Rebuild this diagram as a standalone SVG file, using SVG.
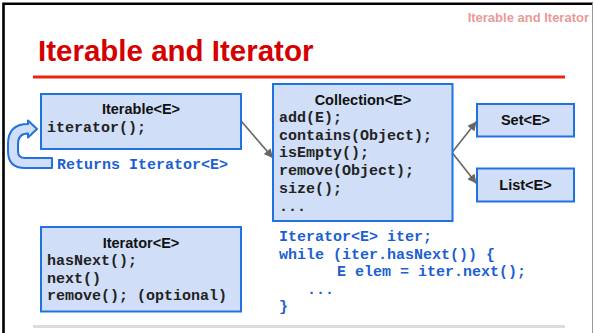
<svg xmlns="http://www.w3.org/2000/svg" width="594" height="333" viewBox="0 0 594 333">
<style>
.box{fill:#d0def7;stroke:#1f72e0;stroke-width:2}
.ttl{font-family:"Liberation Sans",Arial,sans-serif;font-weight:bold;font-size:14.5px;fill:#111;text-anchor:middle}
.code{font-family:"Liberation Mono","Courier New",monospace;font-weight:bold;font-size:15px;fill:#222}
.blue{fill:#1b5fd3}
.conn{stroke:#666;stroke-width:1.6;fill:none;marker-end:url(#ah)}
</style>
<defs>
<marker id="ah" viewBox="0 0 10 10" refX="10" refY="5" markerWidth="10" markerHeight="9" markerUnits="userSpaceOnUse" orient="auto">
<path d="M0,0 L10,5 L0,10 Z" fill="#666"/>
</marker>
</defs>
<rect width="594" height="333" fill="#fff"/>
<path d="M3.5,333 V3.8 H593" fill="none" stroke="#000" stroke-width="2.6"/>
<line x1="592.5" y1="3" x2="592.5" y2="333" stroke="#999" stroke-width="1"/>
<text x="589" y="22" text-anchor="end" font-family="'Liberation Sans',Arial,sans-serif" font-weight="bold" font-size="13" fill="#ea9999">Iterable and Iterator</text>
<text x="38" y="61" font-family="'Liberation Sans',Arial,sans-serif" font-weight="bold" font-size="29.5" fill="#d50000">Iterable and Iterator</text>
<line x1="33" y1="77" x2="565" y2="77" stroke="#e8240c" stroke-width="3"/>
<line x1="33" y1="326.5" x2="565" y2="326.5" stroke="#dcdcdc" stroke-width="3"/>

<g id="connectors">
<line class="conn" x1="241.5" y1="121.5" x2="273" y2="158"/>
<line class="conn" x1="452" y1="152.5" x2="476.5" y2="121.5"/>
<line class="conn" x1="452" y1="152.5" x2="476.5" y2="183.5"/>
</g>

<g id="returns-arrow">
<path d="M52,158 L25,158 Q18,158 18,151 L18,144 Q18,133.5 28,133.5 L28,137.5 L37,129 L28,120.5 L28,124 Q8,124 8,144 L8,151 Q8,168 25,168 L52,168 Z" fill="#d0def7" stroke="#1f72e0" stroke-width="2" stroke-linejoin="round"/>
<text class="code blue" x="57" y="168.5">Returns Iterator&lt;E&gt;</text>
</g>

<g id="iterable">
<rect class="box" x="41" y="94" width="200" height="55"/>
<text class="ttl" x="141" y="114">Iterable&lt;E&gt;</text>
<text class="code" x="47" y="132">iterator();</text>
</g>

<g id="collection">
<rect class="box" x="273" y="84" width="179.5" height="137"/>
<text class="ttl" x="363" y="105">Collection&lt;E&gt;</text>
<text class="code" x="279" y="122">add(E);</text>
<text class="code" x="279" y="139.5">contains(Object);</text>
<text class="code" x="279" y="157.3">isEmpty();</text>
<text class="code" x="279" y="175">remove(Object);</text>
<text class="code" x="279" y="192.7">size();</text>
<text class="code" x="279" y="210.5">...</text>
</g>

<g id="set">
<rect class="box" x="477" y="104" width="97" height="32.5"/>
<text class="ttl" x="525.5" y="125">Set&lt;E&gt;</text>
</g>

<g id="list">
<rect class="box" x="477" y="168.5" width="97" height="33"/>
<text class="ttl" x="525.5" y="190">List&lt;E&gt;</text>
</g>

<g id="iterator">
<rect class="box" x="41" y="227" width="200" height="84.5"/>
<text class="ttl" x="141" y="248.3">Iterator&lt;E&gt;</text>
<text class="code" x="47" y="265">hasNext();</text>
<text class="code" x="47" y="282.7">next()</text>
<text class="code" x="47" y="300.3">remove(); (optional)</text>
</g>

<g id="code-sample">
<text class="code blue" x="279" y="241">Iterator&lt;E&gt; iter;</text>
<text class="code blue" x="279" y="258.5">while (iter.hasNext()) {</text>
<text class="code blue" x="337" y="276">E elem = iter.next();</text>
<text class="code blue" x="307" y="293.5">...</text>
<text class="code blue" x="279" y="311">}</text>
</g>
</svg>
